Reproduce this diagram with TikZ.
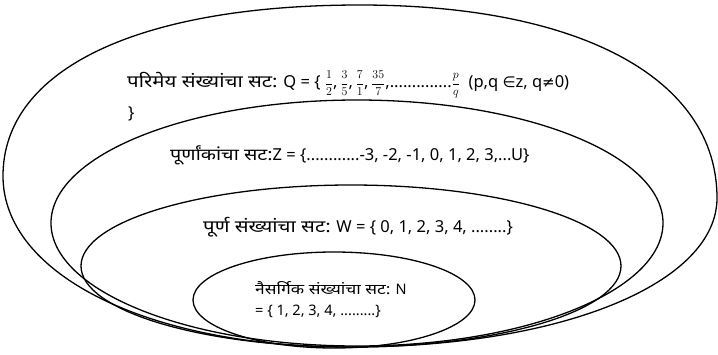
\documentclass[tikz,border=0pt]{standalone}
\usepackage{fontspec}
\setmainfont{Noto Sans}
\newfontfamily\deva{Noto Sans}[Script=Devanagari, FakeStretch=1.2]
\newfontfamily\djv{DejaVu Sans}
\usetikzlibrary{shapes.geometric}
\newcommand{\qfrac}[2]{{\fontsize{13}{15}\selectfont$\displaystyle\frac{#1}{#2}$}}
\begin{document}
\begin{tikzpicture}[x=1pt, y=-1pt,
  setline/.style={draw=black, line width=1.3pt},
  setell/.style={setline, ellipse, inner sep=0pt},
  lbl/.style={font=\fontsize{16.5}{20}\selectfont, inner sep=0pt, anchor=base west},
  smalllbl/.style={font=\fontsize{14.5}{17}\selectfont, inner sep=0pt, anchor=base west}]
\useasboundingbox (0,0) rectangle (718,354);
% outer set Q
\coordinate (qtop) at (360,5);
\coordinate (qright) at (717,198);
\coordinate (qbottom) at (350,347);
\coordinate (qleft) at (3,176);
\draw[setline] (qleft) .. controls (3,69) and (138.7,5) .. (qtop)
  .. controls (581,5) and (717,79) .. (qright)
  .. controls (717,283) and (563,347) .. (qbottom)
  .. controls (149,347) and (3,275) .. (qleft) -- cycle;
\node[setell, minimum width=612pt, minimum height=246pt] (zset) at (357,223) {};
\node[setell, minimum width=540pt, minimum height=162pt] (wset) at (351,266) {};
\node[setell, minimum width=282pt, minimum height=96pt] (nset) at (334,300) {};
% labels
\node[lbl] (qlbl) at (127,87) {{\deva\fontsize{17}{20}\selectfont परिमेय संख्यांचा सट:} Q = \{ \qfrac{1}{2},\,\qfrac{3}{5},\,\qfrac{7}{1},\,\qfrac{35}{7},..............\qfrac{p}{q}\ \ (p,q {\djv\fontsize{15}{17}\selectfont ∈}z, q{\djv\fontsize{15}{17}\selectfont ≠}0)};
\node[lbl] (qbrace) at (128,118) {\}};
\node[lbl] (zlbl) at (170,160) {{\deva पूर्णांकांचा सट:}Z = \{............-3, -2, -1, 0, 1, 2, 3,...U\}};
\node[lbl] (wlbl) at (203,232) {{\deva\fontsize{17}{20}\selectfont पूर्ण संख्यांचा सट:} W = \{ 0, 1, 2, 3, 4, ........\}};
\node[smalllbl] (nlbl1) at (255,294) {{\deva नैसर्गिक संख्यांचा सट:} N};
\node[smalllbl] (nlbl2) at (255,315) {= \{ 1, 2, 3, 4, .........\}};
\end{tikzpicture}
\end{document}
